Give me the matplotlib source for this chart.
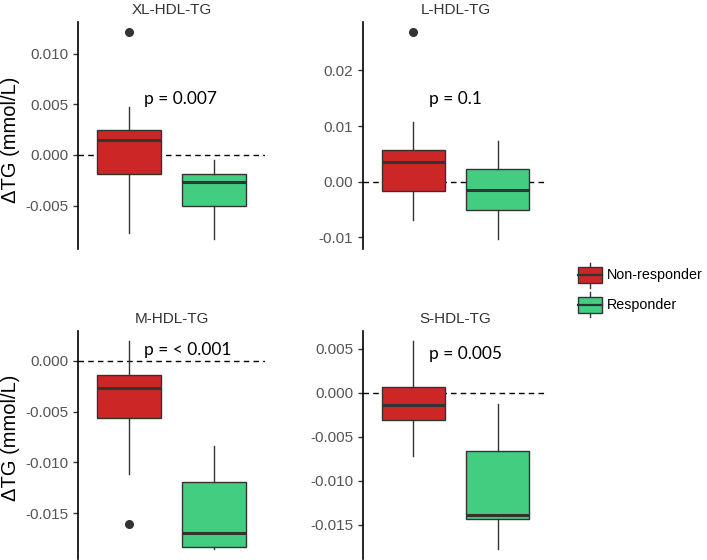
import matplotlib
matplotlib.use('Agg')
import matplotlib.pyplot as plt
from matplotlib.legend_handler import HandlerBase
from matplotlib.patches import Rectangle, Patch
from matplotlib.lines import Line2D

plt.rcParams['font.family'] = ['Liberation Sans', 'DejaVu Sans']

# ── data ────────────────────────────────────────────────────────────────
panels = ['XL-HDL-TG', 'L-HDL-TG', 'M-HDL-TG', 'S-HDL-TG']
groups = ['Non-responder', 'Responder']
colores = ['#CD2626', '#43CD80']

# [whisker low, q1, median, q3, whisker high]
nonresp_box = [[-0.00775, -0.00186, 0.00144, 0.00245, 0.00474],
               [-0.0069, -0.00161, 0.00357, 0.00571, 0.01077],
               [-0.01117, -0.0056, -0.00272, -0.00138, 0.0019],
               [-0.00724, -0.00315, -0.00136, 0.0006, 0.00583]]
nonresp_out = [[0.01209], [0.02684], [-0.01608], []]

resp_box = [[-0.00827, -0.00507, -0.00272, -0.00186, -0.00052],
            [-0.01023, -0.005, -0.00143, 0.00226, 0.00738],
            [-0.01847, -0.01831, -0.0169, -0.01189, -0.00839],
            [-0.01773, -0.01432, -0.01394, -0.00664, -0.00133]]
resp_out = [[], [], [], []]

p_labels = ['p = 0.007', 'p = 0.1', 'p = < 0.001', 'p = 0.005']
p_y = [0.0055, 0.0148, 0.0011, 0.00435]

yticks = [[-0.005, 0.0, 0.005, 0.010],
          [-0.01, 0.0, 0.01, 0.02],
          [-0.015, -0.010, -0.005, 0.0],
          [-0.015, -0.010, -0.005, 0.0, 0.005]]
ytick_labels = [['-0.005', '0.000', '0.005', '0.010'],
                ['-0.01', '0.00', '0.01', '0.02'],
                ['-0.015', '-0.010', '-0.005', '0.000'],
                ['-0.015', '-0.010', '-0.005', '0.000', '0.005']]

# axes rectangles in pixels: left, top, right, bottom
W, H = 707, 560
rects_px = [(78, 22, 265, 249), (363, 22, 548, 249),
            (78, 331, 265, 559), (363, 331, 548, 559)]
ylabel_y = {0: 0.48, 2: 0.53}


class BoxKey(HandlerBase):
    # legend key like ggplot's boxplot glyph
    def create_artists(self, legend, orig_handle, xdescent, ydescent,
                       width, height, fontsize, trans):
        x0 = -xdescent
        yc = -ydescent + height / 2
        hk = 1.75 * fontsize
        xc = x0 + width / 2
        wh = Line2D([xc, xc], [yc - hk / 2, yc + hk / 2], color='#333333', lw=1,
                    transform=trans)
        box = Rectangle((x0, yc - 0.33 * hk), width, 0.66 * hk,
                        facecolor=orig_handle.get_facecolor(), edgecolor='#333333',
                        lw=1, transform=trans)
        med = Line2D([x0, x0 + width], [yc, yc], color='#333333',
                     lw=1.6, transform=trans)
        return [wh, box, med]


fig = plt.figure(figsize=(W / 100, H / 100), dpi=100)

for i, nombre in enumerate(panels):
    l, t, r, b = rects_px[i]
    ax = fig.add_axes([l / W, 1 - b / H, (r - l) / W, (b - t) / H])

    stats = []
    for caja, outl in [(nonresp_box[i], nonresp_out[i]), (resp_box[i], resp_out[i])]:
        stats.append({'whislo': caja[0], 'q1': caja[1], 'med': caja[2],
                      'q3': caja[3], 'whishi': caja[4], 'fliers': outl})

    ax.axhline(0, color='black', lw=1, ls=(0, (4, 3)), zorder=1)
    bp = ax.bxp(stats, positions=[1, 2], widths=0.75, patch_artist=True,
                showcaps=False,
                boxprops=dict(edgecolor='#333333', lw=1),
                whiskerprops=dict(color='#333333', lw=1),
                medianprops=dict(color='#333333', lw=2.2),
                flierprops=dict(marker='o', markerfacecolor='#333333',
                                markeredgecolor='#333333', markersize=5.5))
    for patch, c in zip(bp['boxes'], colores):
        patch.set_facecolor(c)
        patch.set_zorder(2)

    # 5% expansion like ggplot
    vals = nonresp_box[i] + resp_box[i] + nonresp_out[i] + resp_out[i]
    lo, hi = min(vals), max(vals)
    pad = 0.05 * (hi - lo)
    ax.set_ylim(lo - pad, hi + pad)
    ax.set_xlim(0.4, 2.6)

    ax.set_yticks(yticks[i])
    ax.set_yticklabels(ytick_labels[i])
    ax.tick_params(axis='y', labelsize=11, labelcolor='#555555', color='#333333',
                   length=3.5, width=1)
    ax.set_xticks([])
    for s in ['top', 'right', 'bottom']:
        ax.spines[s].set_visible(False)
    ax.spines['left'].set_linewidth(1.2)

    ax.set_title(nombre, fontsize=11, color='#333333', pad=6)
    ax.text(1.18, p_y[i], p_labels[i], ha='left', va='center', fontsize=12.5,
            family=['Lato', 'DejaVu Sans'], color='black')

    if i % 2 == 0:
        ax.set_ylabel('ΔTG (mmol/L)', fontsize=14.5, color='black')
        ax.yaxis.set_label_coords(-0.31, ylabel_y[i])

handles = [Patch(facecolor=c) for c in colores]
fig.legend(handles, groups, handler_map={Patch: BoxKey()},
           loc='center left', bbox_to_anchor=(568 / W, 1 - 290 / H),
           frameon=False, fontsize=10.3, handlelength=1.65, handleheight=2.3,
           handletextpad=0.35, labelspacing=0.35, borderpad=0.2)

fig.savefig('out.png', dpi=100)
